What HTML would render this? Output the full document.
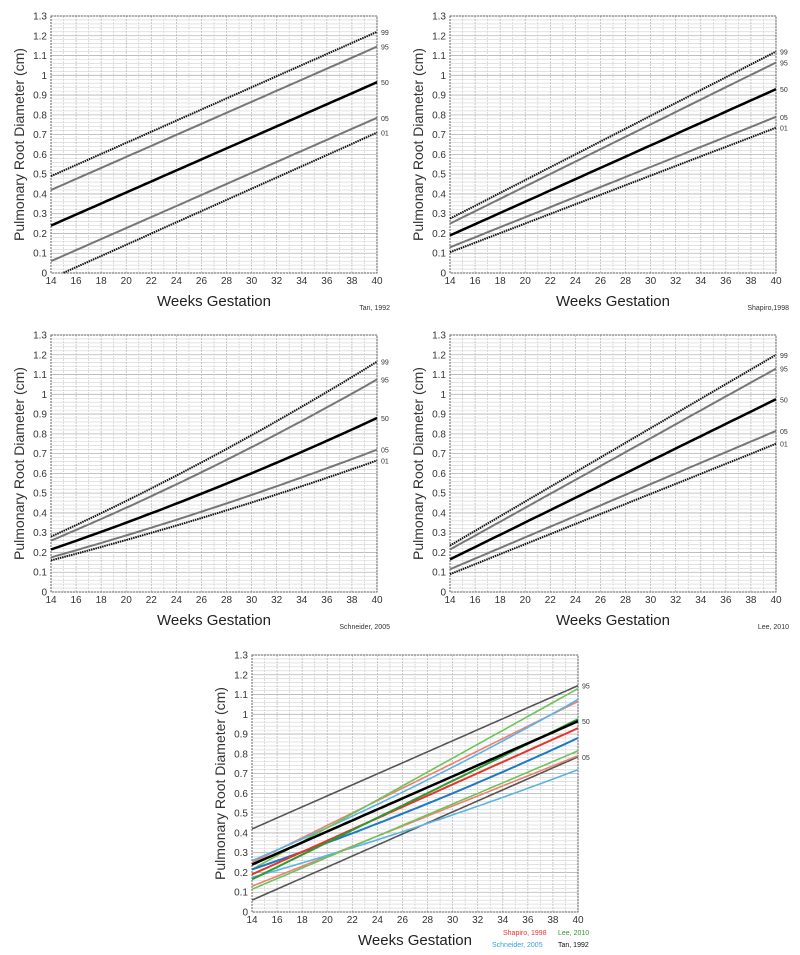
<!DOCTYPE html>
<html><head><meta charset="utf-8"><style>
html,body{margin:0;padding:0;background:#fff;}
svg{display:block;}
</style></head><body>
<svg id="s" width="800" height="955" xmlns="http://www.w3.org/2000/svg" font-family="Liberation Sans, sans-serif"></svg>
<script>
const S=document.getElementById('s');
let h='';
function chart(L,T,src,series,legend){
  const W=326,H=257,R=L+W,B=T+H;
  const X=w=>L+(w-14)/26*W, Y=v=>B-v/1.3*H;
  for(let i=0;i<=65;i++){const y=B-i/65*H;const maj=i%5==0;
    h+=`<line x1="${L}" x2="${R}" y1="${y}" y2="${y}" stroke="${maj?'#b4b4b4':'#d2d2d2'}" stroke-width="${maj?0.8:0.6}"/>`;}
  for(let w=14;w<=40;w++){const x=X(w);
    h+=`<line x1="${x}" x2="${x}" y1="${T}" y2="${B}" stroke="${w%2==0?'#b4b4b4':'#cecece'}" stroke-width="0.7" stroke-dasharray="2,1"/>`;}
  h+=`<rect x="${L}" y="${T}" width="${W}" height="${H}" fill="none" stroke="#666" stroke-width="1" stroke-dasharray="2,1"/>`;
  for(let i=0;i<=13;i++){const v=i/10;const t=i==0?'0':i==10?'1':(v.toFixed(1));
    h+=`<text x="${L-4}" y="${Y(v)+3.5}" font-size="10" text-anchor="end" fill="#333">${t}</text>`;}
  for(let w=14;w<=40;w+=2){h+=`<text x="${X(w)}" y="${B+11}" font-size="10" text-anchor="middle" fill="#333">${w}</text>`;}
  h+=`<text transform="translate(${L-27},${T+H/2}) rotate(-90)" font-size="14" text-anchor="middle" fill="#333">Pulmonary Root Diameter  (cm)</text>`;
  h+=`<text x="${L+W/2}" y="${B+33}" font-size="15" text-anchor="middle" fill="#222">Weeks Gestation</text>`;
  if(src)h+=`<text x="${R+13}" y="${B+37}" font-size="7" text-anchor="end" fill="#333">${src}</text>`;
  series.forEach(s=>{
    const [a,b,c,st,lab,w0]=s; const ws=w0||14;
    let p='';for(let w=ws;w<=40;w+=0.5){const t=(w-14)/26;const v=a+(b-a-c)*t+c*t*t;p+=(p?'L':'M')+X(w).toFixed(1)+','+Y(v).toFixed(1);}
    h+=`<path d="${p}" fill="none" stroke="${st.c}" stroke-width="${st.w}" ${st.d?'stroke-dasharray="'+st.d+'"':''}/>`;
    if(lab)h+=`<text x="${R+4}" y="${Y(b)+3}" font-size="7" fill="#333">${lab}</text>`;
  });
  if(legend)legend.forEach(l=>h+=`<text x="${l[0]}" y="${l[1]}" font-size="7" fill="${l[3]}">${l[2]}</text>`);
}
const D={c:'#111',w:2,d:'1.5,0.8'},G={c:'#777',w:2},K={c:'#000',w:2.5};
function five(v,c){return [[v[0],v[1],c*(v[1]-v[0]),D,'99'],[v[2],v[3],c*(v[3]-v[2]),G,'95'],[v[4],v[5],c*(v[5]-v[4]),K,'50'],[v[6],v[7],c*(v[7]-v[6]),G,'05'],[v[8],v[9],c*(v[9]-v[8]),D,'01']];}
let tan=five([0.49,1.22,0.42,1.145,0.24,0.965,0.06,0.785,-0.0273,0.71],0);
tan[4][5]=15;
chart(51,16,'Tan, 1992',tan);
chart(450,16,'Shapiro,1998',five([0.275,1.12,0.25,1.065,0.19,0.93,0.13,0.79,0.105,0.735],0));
chart(51,335,'Schneider, 2005',five([0.28,1.165,0.26,1.075,0.215,0.88,0.175,0.72,0.16,0.665],0.15));
chart(450,335,'Lee, 2010',five([0.235,1.2,0.215,1.13,0.165,0.975,0.115,0.815,0.09,0.75],0));
const red={c:'#e8352b',w:2},rl={c:'#f08070',w:1.6},gr={c:'#2f9a2f',w:2},gl={c:'#6cc45a',w:1.6},bl={c:'#1c78c8',w:2},bll={c:'#5ab4e6',w:1.6},tg={c:'#555',w:1.6};
chart(252,655,null,[
 [0.42,1.145,0,tg,'95'],[0.06,0.785,0,tg,'05'],
 [0.25,1.065,0,rl],[0.13,0.79,0,rl],
 [0.26,1.075,0.15*0.815,bll],[0.175,0.72,0.15*0.545,bll],
 [0.215,1.13,0,gl],[0.115,0.815,0,gl],
 [0.215,0.88,0.1,bl],[0.19,0.93,0,red],[0.165,0.975,0,gr],
 [0.24,0.965,0,K,'50']
],[[503,935,'Shapiro, 1998','#e8352b'],[558,935,'Lee, 2010','#2f9a2f'],[492,947,'Schneider, 2005','#3aa0e0'],[558,947,'Tan, 1992','#111']]);
S.innerHTML=h;
</script>
</body></html>
